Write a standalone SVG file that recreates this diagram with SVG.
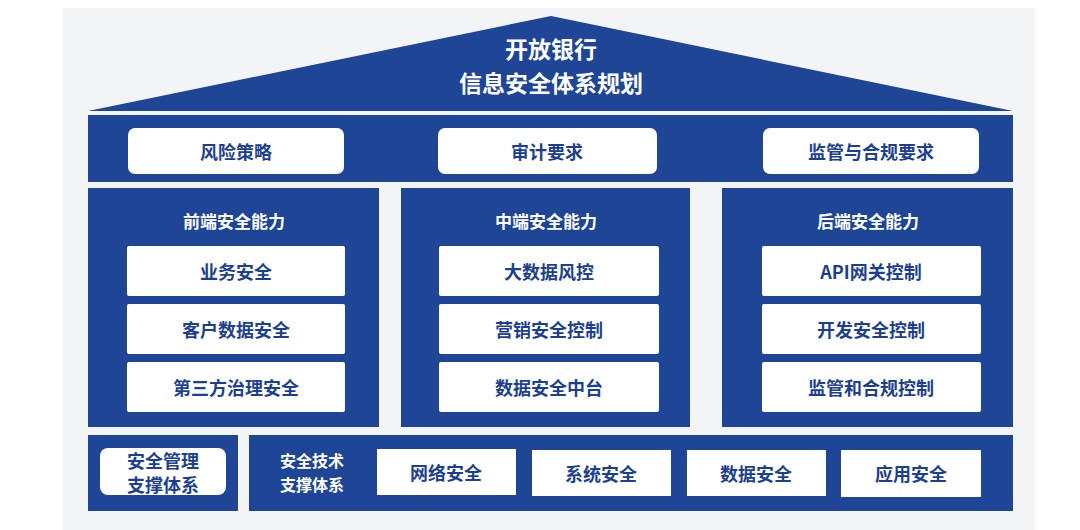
<svg xmlns="http://www.w3.org/2000/svg" width="1080" height="530" viewBox="0 0 1080 530">
<style>
.blue{fill:#1e4596}
.wbox{fill:#ffffff}
.lbl{font-family:"Noto Sans CJK SC","Noto Sans",sans-serif;font-weight:700;font-size:18px;fill:#1d3f8f;text-anchor:middle;dominant-baseline:central}
.wt{font-family:"Noto Sans CJK SC","Noto Sans",sans-serif;font-weight:700;fill:#ffffff;text-anchor:middle;dominant-baseline:central}
</style>
<rect x="0" y="0" width="1080" height="530" fill="#ffffff"/>
<rect x="63" y="8" width="972" height="522" fill="#f3f4f6"/>
<g id="roof">
<polygon class="blue" points="551,16 1013,111 88,111"/>
<text class="wt" x="551" y="48" font-size="23">开放银行</text>
<text class="wt" x="551" y="82" font-size="23">信息安全体系规划</text>
</g>
<g id="requirements">
<rect class="blue" x="88" y="115" width="925" height="67"/>
<rect class="wbox" x="128" y="128" width="216" height="46" rx="7"/>
<text class="lbl" x="236" y="151">风险策略</text>
<rect class="wbox" x="438" y="128" width="219" height="46" rx="7"/>
<text class="lbl" x="547" y="151">审计要求</text>
<rect class="wbox" x="763" y="128" width="216" height="46" rx="7"/>
<text class="lbl" x="871" y="151">监管与合规要求</text>
</g>
<g id="front">
<rect class="blue" x="88" y="188" width="291" height="239"/>
<text class="wt" x="234" y="220" font-size="17">前端安全能力</text>
<rect class="wbox" x="127" y="246" width="218" height="50" rx="2"/>
<text class="lbl" x="236" y="271">业务安全</text>
<rect class="wbox" x="127" y="304" width="218" height="50" rx="2"/>
<text class="lbl" x="236" y="329">客户数据安全</text>
<rect class="wbox" x="127" y="362" width="218" height="50" rx="2"/>
<text class="lbl" x="236" y="387">第三方治理安全</text>
</g>
<g id="middle">
<rect class="blue" x="401" y="188" width="289" height="239"/>
<text class="wt" x="546" y="220" font-size="17">中端安全能力</text>
<rect class="wbox" x="439" y="246" width="220" height="50" rx="2"/>
<text class="lbl" x="549" y="271">大数据风控</text>
<rect class="wbox" x="439" y="304" width="220" height="50" rx="2"/>
<text class="lbl" x="549" y="329">营销安全控制</text>
<rect class="wbox" x="439" y="362" width="220" height="50" rx="2"/>
<text class="lbl" x="549" y="387">数据安全中台</text>
</g>
<g id="back">
<rect class="blue" x="722" y="188" width="291" height="239"/>
<text class="wt" x="868" y="220" font-size="17">后端安全能力</text>
<rect class="wbox" x="762" y="246" width="219" height="50" rx="2"/>
<text class="lbl" x="871" y="271">API网关控制</text>
<rect class="wbox" x="762" y="304" width="219" height="50" rx="2"/>
<text class="lbl" x="871" y="329">开发安全控制</text>
<rect class="wbox" x="762" y="362" width="219" height="50" rx="2"/>
<text class="lbl" x="871" y="387">监管和合规控制</text>
</g>
<g id="mgmt">
<rect class="blue" x="88" y="435" width="150" height="76"/>
<rect class="wbox" x="100" y="448" width="126" height="47" rx="8"/>
<text class="lbl" x="163" y="460" font-size="16">安全管理</text>
<text class="lbl" x="163" y="483.5" font-size="16">支撑体系</text>
</g>
<g id="tech">
<rect class="blue" x="249" y="435" width="764" height="76"/>
<text class="wt" x="312" y="460" font-size="16">安全技术</text>
<text class="wt" x="312" y="483.5" font-size="16">支撑体系</text>
<rect class="wbox" x="377" y="449" width="139" height="46"/>
<text class="lbl" x="446" y="472">网络安全</text>
<rect class="wbox" x="532" y="450" width="139" height="46"/>
<text class="lbl" x="601" y="473">系统安全</text>
<rect class="wbox" x="687" y="450" width="139" height="46"/>
<text class="lbl" x="756" y="473">数据安全</text>
<rect class="wbox" x="841" y="450" width="140" height="47"/>
<text class="lbl" x="911" y="473">应用安全</text>
</g>
<g id="connectors"></g>
</svg>
